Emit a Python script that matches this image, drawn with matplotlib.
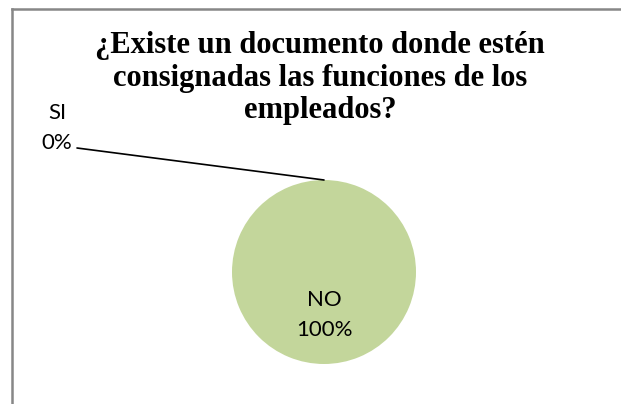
import matplotlib
matplotlib.use("Agg")
import matplotlib.pyplot as plt
from matplotlib.lines import Line2D
import numpy as np

# data
categories = ["SI", "NO"]
values = [0, 100]
title = "¿Existe un documento donde estén\nconsignadas las funciones de los\nempleados?"
pie_color = "#C3D69B"

W, H = 621, 404
fig = plt.figure(figsize=(W / 100, H / 100), dpi=100)

# chart frame (only top and left edges are visible in the crop)
frame = "#878787"
fig.add_artist(Line2D([12 / W, 1], [1 - 9 / H, 1 - 9 / H], transform=fig.transFigure,
                      color=frame, lw=1.8))
fig.add_artist(Line2D([12 / W, 12 / W], [0, 1 - 9 / H], transform=fig.transFigure,
                      color=frame, lw=1.8))

fig.text(320 / W, 1 - 31 / H, title, ha="center", va="top",
         family="Liberation Serif", weight="bold", fontsize=22, linespacing=1.16)

# pie axes: centre (324, 272) px, radius 92 px
cx, cy, r = 324, 272, 92
ax = fig.add_axes([(cx - r) / W, (H - cy - r) / H, 2 * r / W, 2 * r / H])
wedges, _ = ax.pie(values, colors=[pie_color, pie_color], startangle=90,
                   counterclock=False, radius=1,
                   wedgeprops=dict(linewidth=0))
ax.set_xlim(-1, 1)
ax.set_ylim(-1, 1)
ax.set_aspect("equal")
ax.axis("off")

total = sum(values)
lab_font = dict(family="Lato", fontsize=16, color="black")
for w, name, v in zip(wedges, categories, values):
    pct = f"{v / total * 100:.0f}%"
    mid = np.deg2rad((w.theta1 + w.theta2) / 2)
    if v > 0:
        ax.text(0.47 * np.cos(mid), 0.47 * np.sin(mid), f"{name}\n{pct}",
                ha="center", va="center", linespacing=1.6, **lab_font)
    else:
        # zero slice: label outside with a leader line
        fig.text(57 / W, 1 - 128 / H, f"{name}\n{pct}", ha="center", va="center",
                 linespacing=1.6, **lab_font)
        ax.annotate("", xy=(np.cos(mid), np.sin(mid)), xycoords="data",
                    xytext=(77, H - 148), textcoords="figure pixels",
                    arrowprops=dict(arrowstyle="-", lw=1.2, color="black",
                                    shrinkA=0, shrinkB=0))

fig.savefig("out.png", dpi=100)
